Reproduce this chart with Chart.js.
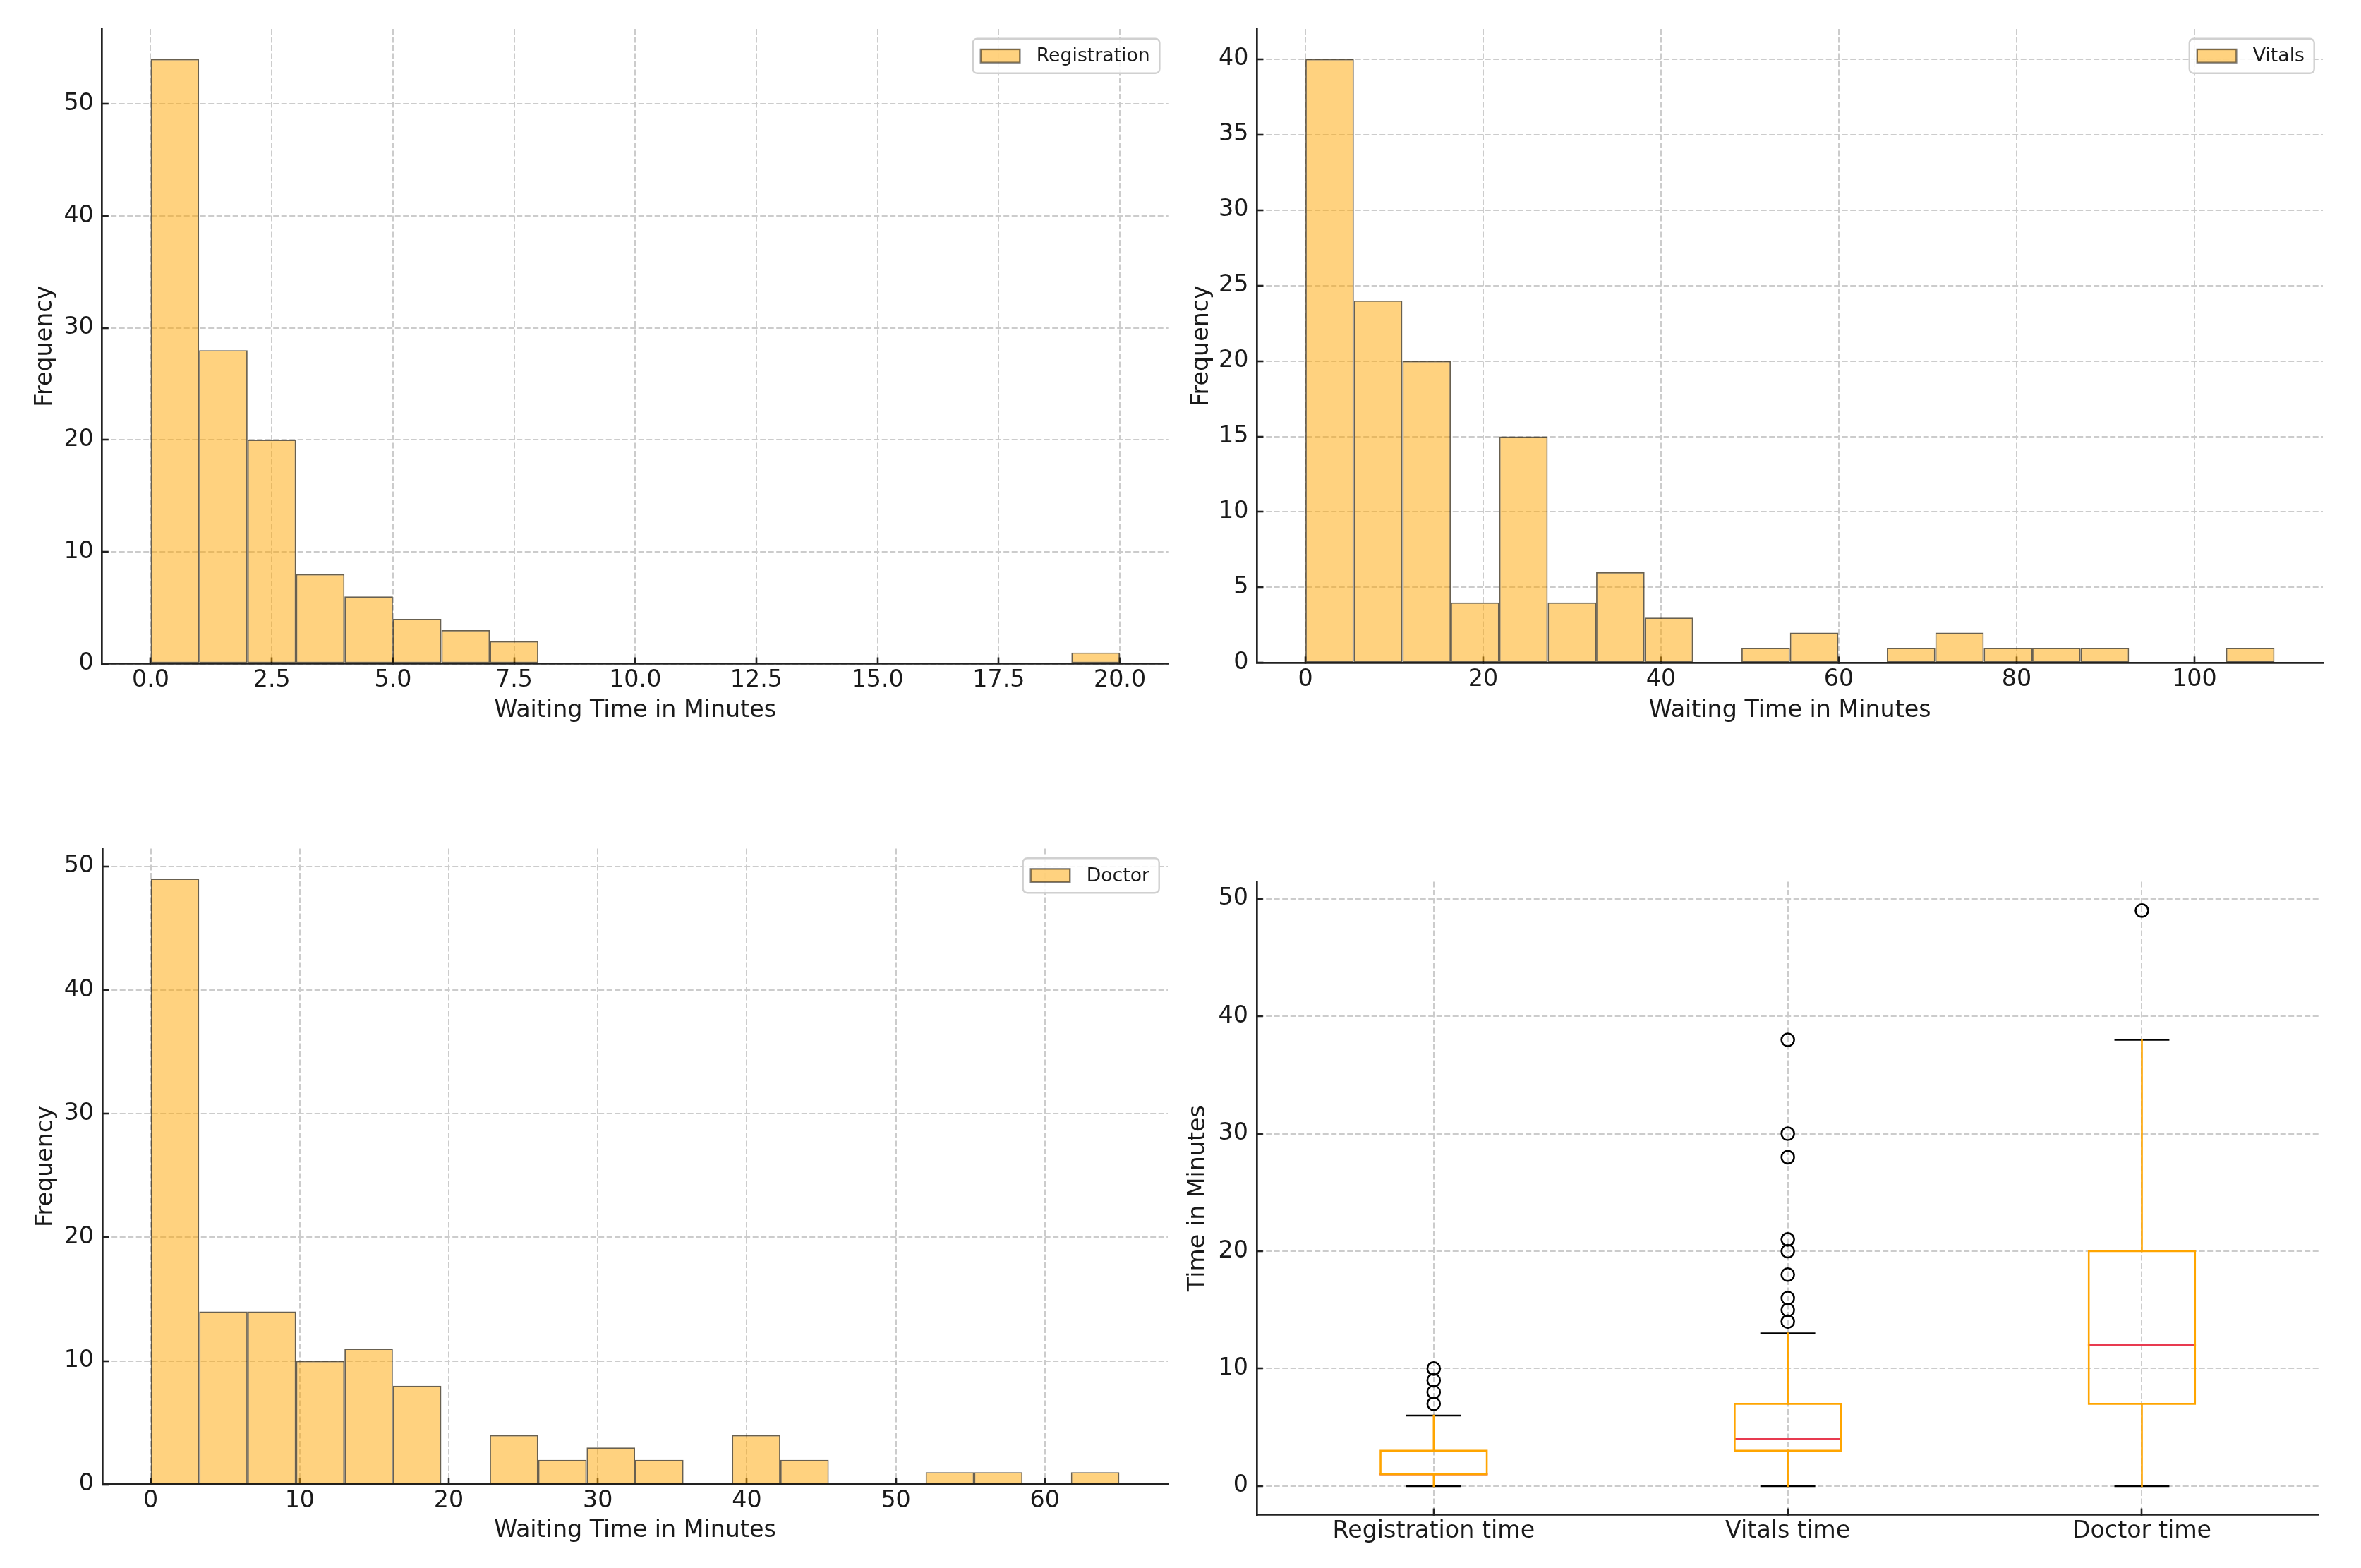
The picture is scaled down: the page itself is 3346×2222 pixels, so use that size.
<!DOCTYPE html>
<html><head><meta charset="utf-8">
<script src="https://cdn.jsdelivr.net/npm/chart.js@4.4.1/dist/chart.umd.min.js"></script>
<style>
html,body{margin:0;padding:0;background:#fff;}
body{width:3346px;height:2222px;position:relative;overflow:hidden;}
canvas{position:absolute;display:block;}
</style></head><body>
<canvas id="c1" width="1660" height="1060" style="left:0px;top:0px;width:1660px;height:1060px"></canvas>
<canvas id="c2" width="1686" height="1060" style="left:1660px;top:0px;width:1686px;height:1060px"></canvas>
<canvas id="c3" width="1660" height="1112" style="left:0px;top:1110px;width:1660px;height:1112px"></canvas>
<canvas id="c4" width="1686" height="1112" style="left:1660px;top:1110px;width:1686px;height:1112px"></canvas>
<script>
// ---------------- data ----------------
const regLabel = 'Registration';
const regCounts = [54, 28, 20, 8, 6, 4, 3, 2, 0, 0, 0, 0, 0, 0, 0, 0, 0, 0, 0, 1];
const regRange = [0, 20];
const regXTicks = [0, 2.5, 5, 7.5, 10, 12.5, 15, 17.5, 20];
const regYTicks = [0, 10, 20, 30, 40, 50];

const vitLabel = 'Vitals';
const vitCounts = [40, 24, 20, 4, 15, 4, 6, 3, 0, 1, 2, 0, 1, 2, 1, 1, 1, 0, 0, 1];
const vitRange = [0, 109];
const vitXTicks = [0, 20, 40, 60, 80, 100];
const vitYTicks = [0, 5, 10, 15, 20, 25, 30, 35, 40];

const docLabel = 'Doctor';
const docCounts = [49, 14, 14, 10, 11, 8, 0, 4, 2, 3, 2, 0, 4, 2, 0, 0, 1, 1, 0, 1];
const docRange = [0, 65];
const docXTicks = [0, 10, 20, 30, 40, 50, 60];
const docYTicks = [0, 10, 20, 30, 40, 50];

const boxCategories = ['Registration time', 'Vitals time', 'Doctor time'];
const boxWhiskerLow = [0, 0, 0];
const boxQ1 = [1, 3, 7];
const boxMedian = [1, 4, 12];
const boxQ3 = [3, 7, 20];
const boxWhiskerHigh = [6, 13, 38];
const boxOutliers = [[7, 8, 9, 10], [14, 15, 16, 18, 20, 21, 28, 30, 38], [49]];
const boxYTicks = [0, 10, 20, 30, 40, 50];

const histXTitle = 'Waiting Time in Minutes';
const histYTitle = 'Frequency';
const boxYTitle = 'Time in Minutes';

// ---------------- styles ----------------
const FONT = 'DejaVu Sans';
const TXT = '#1a1a1a';
const FILL = 'rgba(255,165,0,0.5)';
const EDGE = 'rgba(40,28,5,0.7)';
const ORANGE = '#FFA500';
const MEDIAN = '#E83A50';
const TICK = 33.3, LEG = 26.7;

Chart.defaults.font.family = FONT;
Chart.defaults.color = TXT;

const frameLegend = {
  id: 'frameLegend',
  afterDraw(chart) {
    const ds = chart.data.datasets[0];
    const ctx = chart.ctx, a = chart.chartArea;
    ctx.save();
    ctx.font = LEG + 'px "' + FONT + '"';
    const tw = ctx.measureText(ds.label).width;
    const padL = 11, pw = 55.6, ph = 18.7, gap = 23.4, padR = 13.7, h = 49;
    const w = padL + pw + gap + tw + padR;
    const right = a.right - 12.3, top = a.top + 13.8, left = right - w;
    ctx.beginPath();
    ctx.roundRect(left, top, w, h, 6);
    ctx.fillStyle = 'rgba(255,255,255,0.85)';
    ctx.fill();
    ctx.lineWidth = 2.4;
    ctx.strokeStyle = '#d0d0d0';
    ctx.stroke();
    const py = top + h / 2 - ph / 2;
    ctx.fillStyle = ds.backgroundColor;
    ctx.fillRect(left + padL, py, pw, ph);
    ctx.lineWidth = 2.4;
    ctx.strokeStyle = 'rgba(0,0,0,0.5)';
    ctx.strokeRect(left + padL, py, pw, ph);
    ctx.fillStyle = TXT;
    ctx.textBaseline = 'middle';
    ctx.textAlign = 'left';
    ctx.fillText(ds.label, left + padL + pw + gap, top + h / 2 + 1);
    ctx.restore();
  }
};

function gridOpts() {
  return { color: '#cccccc', lineWidth: 2, tickColor: '#222222', tickWidth: 2.6,
           tickLength: -9, tickBorderDash: [], drawTicks: true, offset: false };
}
function borderOpts() {
  return { color: '#222222', width: 2.7, dash: [8, 3.5] };
}

function histChart(id, label, counts, range, xTicks, yTicks, xMin, xMax, yMax, g, fmt) {
  const n = counts.length, bw = (range[1] - range[0]) / n;
  const data = counts.map((c, i) => ({ x: range[0] + (i + 0.5) * bw, y: c }));
  return new Chart(document.getElementById(id), {
    type: 'bar',
    data: { datasets: [{ label, data, backgroundColor: FILL, borderColor: EDGE, borderWidth: 1.8,
      borderSkipped: false, barPercentage: 1, categoryPercentage: 1, inflateAmount: 0 }] },
    options: {
      responsive: false, animation: false, devicePixelRatio: 1,
      layout: { padding: { top: g.top, right: g.right, left: 0, bottom: 0 } },
      plugins: { legend: { display: false }, tooltip: { enabled: false } },
      scales: {
        x: {
          type: 'linear', min: xMin, max: xMax, offset: false,
          afterBuildTicks: s => { s.ticks = xTicks.map(v => ({ value: v })); },
          afterFit: s => { s.height = g.xh; },
          ticks: { callback: fmt, autoSkip: false, maxRotation: 0, minRotation: 0, padding: 13, font: { size: TICK }, color: TXT },
          grid: gridOpts(), border: borderOpts(),
          title: { display: true, text: histXTitle, font: { size: TICK }, color: TXT, padding: { top: 0, bottom: 33 } }
        },
        y: {
          type: 'linear', min: 0, max: yMax,
          afterBuildTicks: s => { s.ticks = yTicks.map(v => ({ value: v })); },
          afterFit: s => { s.width = g.yw; },
          ticks: { autoSkip: false, padding: 21, font: { size: TICK }, color: TXT },
          grid: gridOpts(), border: borderOpts(),
          title: { display: true, text: histYTitle, font: { size: TICK }, color: TXT, padding: { top: g.ytp, bottom: 0 } }
        }
      }
    },
    plugins: [frameLegend]
  });
}

histChart('c1', regLabel, regCounts, regRange, regXTicks, regYTicks, -1, 21, 56.7,
  { top: 39.5, right: 4.3, xh: 119.5, yw: 144.8, ytp: 44 }, v => Number(v).toFixed(1));
histChart('c2', vitLabel, vitCounts, vitRange, vitXTicks, vitYTicks, -5.45, 114.45, 42,
  { top: 39.8, right: 54, xh: 120.6, yw: 121.4, ytp: 23 }, v => String(v));
histChart('c3', docLabel, docCounts, docRange, docXTicks, docYTicks, -3.25, 68.25, 51.45,
  { top: 92.4, right: 5, xh: 118.2, yw: 145, ytp: 45 }, v => String(v));

// ---------------- box plot ----------------
const boxDatasets = [];
const HALF_BOX = 0.15, HALF_CAP = 0.075;
function seg(pts, color) {
  boxDatasets.push({ data: pts, showLine: true, borderColor: color, borderWidth: 2.6,
    pointRadius: 0, pointHoverRadius: 0, fill: false, tension: 0,
    borderJoinStyle: 'miter', borderCapStyle: 'square' });
}
boxCategories.forEach((name, i) => {
  const p = i + 1;
  seg([{ x: p, y: boxQ1[i] }, { x: p, y: boxWhiskerLow[i] }], ORANGE);
  seg([{ x: p, y: boxQ3[i] }, { x: p, y: boxWhiskerHigh[i] }], ORANGE);
  seg([{ x: p - HALF_CAP, y: boxWhiskerLow[i] }, { x: p + HALF_CAP, y: boxWhiskerLow[i] }], '#000000');
  seg([{ x: p - HALF_CAP, y: boxWhiskerHigh[i] }, { x: p + HALF_CAP, y: boxWhiskerHigh[i] }], '#000000');
  seg([{ x: p - HALF_BOX, y: boxQ1[i] }, { x: p + HALF_BOX, y: boxQ1[i] }, { x: p + HALF_BOX, y: boxQ3[i] },
       { x: p - HALF_BOX, y: boxQ3[i] }, { x: p - HALF_BOX, y: boxQ1[i] }], ORANGE);
  seg([{ x: p - HALF_BOX, y: boxMedian[i] }, { x: p + HALF_BOX, y: boxMedian[i] }], MEDIAN);
  boxDatasets.push({ data: boxOutliers[i].map(v => ({ x: p, y: v })), showLine: false,
    pointRadius: 9, pointHoverRadius: 9, pointBorderWidth: 2.6, pointBorderColor: '#000000',
    pointBackgroundColor: 'rgba(0,0,0,0)', pointStyle: 'circle' });
});

const gb = { top: 139.6, right: 59.6, xh: 75.4, yw: 120.9, ytp: 18 };
new Chart(document.getElementById('c4'), {
  type: 'scatter',
  data: { datasets: boxDatasets },
  options: {
    responsive: false, animation: false, devicePixelRatio: 1,
    layout: { padding: { top: gb.top, right: gb.right, left: 0, bottom: 0 } },
    plugins: { legend: { display: false }, tooltip: { enabled: false } },
    scales: {
      x: {
        type: 'linear', min: 0.5, max: boxCategories.length + 0.5, offset: false,
        afterBuildTicks: s => { s.ticks = boxCategories.map((c, i) => ({ value: i + 1 })); },
        afterFit: s => { s.height = gb.xh; },
        ticks: { callback: v => boxCategories[Math.round(v) - 1], autoSkip: false, maxRotation: 0, minRotation: 0,
                 padding: 13, font: { size: TICK }, color: TXT },
        grid: gridOpts(), border: borderOpts()
      },
      y: {
        type: 'linear', min: -2.45, max: 51.45,
        afterBuildTicks: s => { s.ticks = boxYTicks.map(v => ({ value: v })); },
        afterFit: s => { s.width = gb.yw; },
        ticks: { autoSkip: false, padding: 21, font: { size: TICK }, color: TXT },
        grid: gridOpts(), border: borderOpts(),
        title: { display: true, text: boxYTitle, font: { size: TICK }, color: TXT, padding: { top: gb.ytp, bottom: 0 } }
      }
    }
  }
});
</script>
</body></html>
